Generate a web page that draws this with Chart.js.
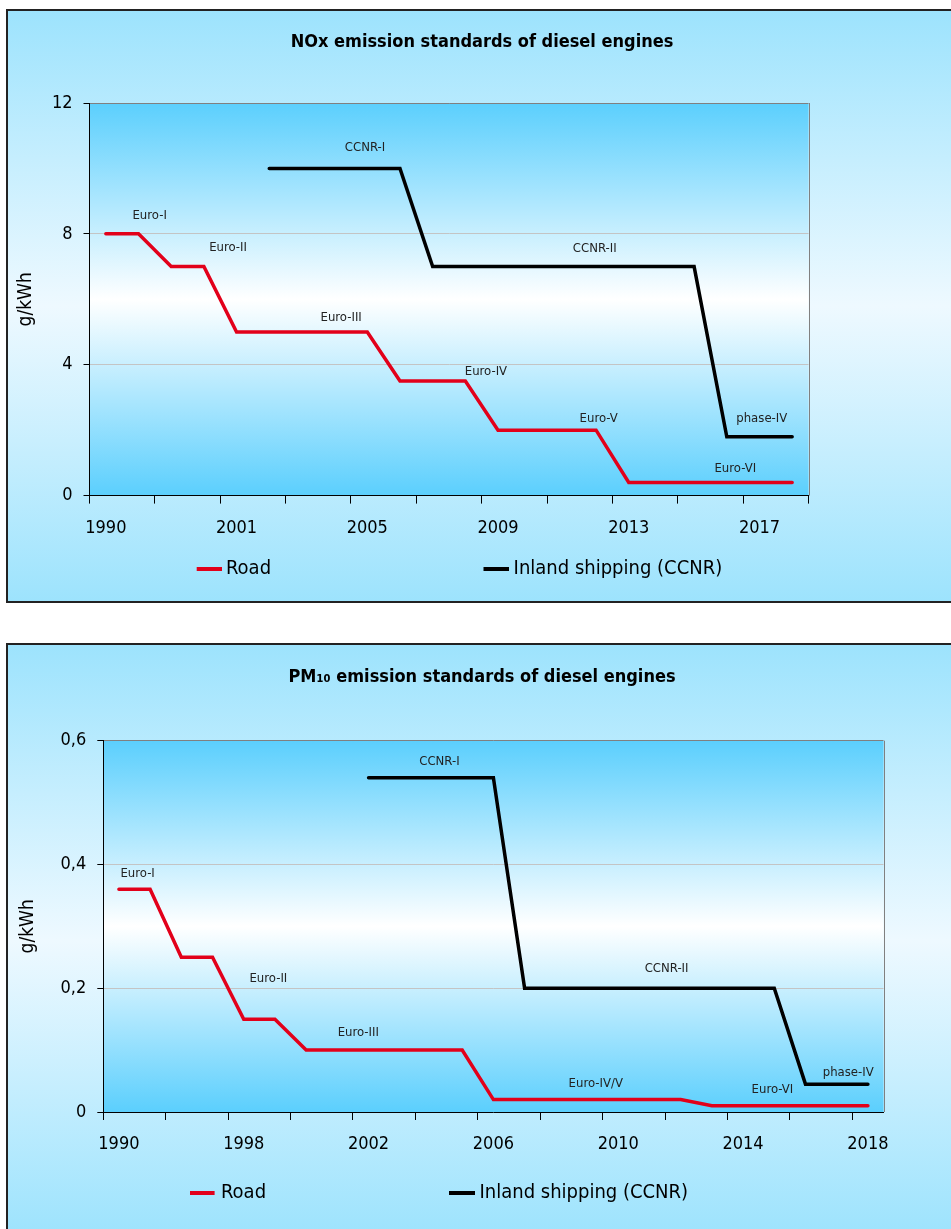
<!DOCTYPE html>
<html>
<head>
<meta charset="utf-8">
<script src="https://cdn.jsdelivr.net/npm/chart.js@4.4.1/dist/chart.umd.min.js"></script>
<style>
  html, body { margin: 0; padding: 0; background: #fff; width: 951px; height: 1229px; overflow: hidden; }
  .panel {
    position: absolute; left: 6px; width: 945px;
    border: 2px solid #222; border-right: none;
    background: linear-gradient(to bottom, #9de3fd 0%, #eef9ff 50%, #9de3fd 100%);
  }
  #p1 { top: 9px; height: 590px; }
  #p2 { top: 643px; height: 590px; }
  canvas { display: block; }
</style>
</head>
<body>
<div class="panel" id="p1"><canvas id="noxChart" width="943" height="590"></canvas></div>
<div class="panel" id="p2"><canvas id="pmChart" width="943" height="590"></canvas></div>
<script>
// ---- data ----
const noxYears = ['1990', '1992', '1994', '1996', '2001', '2002', '2003', '2004', '2005', '2006', '2007',
    '2008', '2009', '2010', '2011', '2012', '2013', '2014', '2015', '2016', '2017', '2018'];
const noxRoad = [8, 8, 7, 7, 5, 5, 5, 5, 5, 3.5, 3.5, 3.5, 2, 2, 2, 2, 0.4, 0.4, 0.4, 0.4, 0.4, 0.4];
const noxShipping = [null, null, null, null, null, 10, 10, 10, 10, 10, 7, 7, 7, 7, 7, 7, 7, 7, 7, 1.8, 1.8, 1.8];
const noxYTicks = ['0', '4', '8', '12'];
const noxNoteText = ['Euro-I', 'Euro-II', 'Euro-III', 'Euro-IV', 'Euro-V', 'Euro-VI', 'CCNR-I', 'CCNR-II', 'phase-IV'];
const noxNoteX = [1.34, 3.74, 7.2, 11.63, 15.08, 19.26, 7.93, 14.96, 20.07];
const noxNoteY = [8.55, 7.59, 5.44, 3.79, 2.35, 0.83, 10.64, 7.56, 2.34];

const pmYears = ['1990', '1992', '1994', '1996', '1998', '1999', '2000', '2001', '2002', '2003', '2004',
    '2005', '2006', '2007', '2008', '2009', '2010', '2011', '2012', '2013', '2014', '2015', '2016', '2017', '2018'];
const pmRoad = [0.36, 0.36, 0.25, 0.25, 0.15, 0.15, 0.1, 0.1, 0.1, 0.1, 0.1, 0.1,
    0.02, 0.02, 0.02, 0.02, 0.02, 0.02, 0.02, 0.01, 0.01, 0.01, 0.01, 0.01, 0.01];
const pmShipping = [null, null, null, null, null, null, null, null, 0.54, 0.54, 0.54, 0.54, 0.54,
    0.2, 0.2, 0.2, 0.2, 0.2, 0.2, 0.2, 0.2, 0.2, 0.045, 0.045, 0.045];
const pmYTicks = ['0', '0,2', '0,4', '0,6'];
const pmNoteText = ['Euro-I', 'Euro-II', 'Euro-III', 'Euro-IV/V', 'Euro-VI', 'CCNR-I', 'CCNR-II', 'phase-IV'];
const pmNoteX = [0.6, 4.79, 7.67, 15.28, 20.94, 10.27, 17.55, 23.37];
const pmNoteY = [0.385, 0.216, 0.129, 0.046, 0.036, 0.566, 0.231, 0.064];

const seriesNames = ['Road', 'Inland shipping (CCNR)'];
const seriesColors = ['#e2001a', '#000000'];

const FONT = '"DejaVu Sans Condensed", "DejaVu Sans", sans-serif';
Chart.defaults.color = '#000';
Chart.defaults.font.family = FONT;

// gradient inside the plot area + grey right edge
const plotBackground = {
    id: 'plotBackground',
    beforeDraw(chart) {
        const { ctx, chartArea: a } = chart;
        const g = ctx.createLinearGradient(0, a.top, 0, a.bottom);
        g.addColorStop(0, '#5bcffd');
        g.addColorStop(0.5, '#ffffff');
        g.addColorStop(1, '#5bcffd');
        ctx.save();
        ctx.fillStyle = g;
        ctx.fillRect(a.left, a.top, a.right - a.left, a.bottom - a.top);
        ctx.strokeStyle = '#808080';
        ctx.lineWidth = 1;
        ctx.beginPath();
        ctx.moveTo(Math.round(a.right) + 0.5, a.top);
        ctx.lineTo(Math.round(a.right) + 0.5, a.bottom);
        ctx.stroke();
        ctx.restore();
    }
};

// text labels (Euro-I etc.) placed in data coordinates
const notes = {
    id: 'notes',
    afterDatasetsDraw(chart, args, opts) {
        const { ctx, scales: { x, y } } = chart;
        ctx.save();
        ctx.font = '13px ' + FONT;
        ctx.fillStyle = '#222';
        ctx.textAlign = 'center';
        ctx.textBaseline = 'middle';
        opts.text.forEach((t, i) => {
            ctx.fillText(t, x.getPixelForValue(opts.xs[i]), y.getPixelForValue(opts.ys[i]));
        });
        ctx.restore();
    }
};

// simple line legend
const lineLegend = {
    id: 'lineLegend',
    afterDraw(chart, args, opts) {
        const { ctx } = chart;
        ctx.save();
        ctx.font = '20px ' + FONT;
        ctx.textBaseline = 'middle';
        ctx.textAlign = 'left';
        chart.data.datasets.forEach((ds, i) => {
            ctx.strokeStyle = ds.borderColor;
            ctx.lineWidth = 4;
            ctx.beginPath();
            ctx.moveTo(opts.lines[i][0], opts.y);
            ctx.lineTo(opts.lines[i][1], opts.y);
            ctx.stroke();
            ctx.fillStyle = '#000';
            ctx.fillText(ds.label, opts.textX[i], opts.y);
        });
        ctx.restore();
    }
};

function makeChart(id, cfg) {
    const nLabels = cfg.labels.length;
    return new Chart(document.getElementById(id), {
        type: 'line',
        data: {
            labels: cfg.labels,
            datasets: [cfg.road, cfg.shipping].map((vals, i) => ({
                label: seriesNames[i],
                data: vals,
                borderColor: seriesColors[i],
                backgroundColor: seriesColors[i],
                borderWidth: 3.5,
                pointRadius: 0,
                tension: 0,
                borderCapStyle: 'round',
                yAxisID: 'y'
            }))
        },
        options: {
            responsive: false,
            animation: false,
            events: [],
            layout: { padding: { left: 5, right: 0, top: 0, bottom: cfg.padBottom } },
            plugins: {
                legend: { display: false },
                tooltip: { enabled: false },
                title: {
                    display: true,
                    text: cfg.title,
                    color: '#000',
                    font: { family: FONT, size: 18, weight: 'bold' },
                    padding: { top: cfg.titleTop, bottom: cfg.titleBottom }
                },
                notes: { text: cfg.noteText, xs: cfg.noteX, ys: cfg.noteY },
                lineLegend: cfg.legend
            },
            scales: {
                x: {
                    type: 'category',
                    offset: true,
                    afterFit: s => { s.height = 60; },
                    grid: {
                        drawOnChartArea: false,
                        offset: true,
                        tickLength: 8,
                        tickColor: c => ((c.index === undefined ? nLabels : c.index) % 2 === 0 ? '#000' : 'rgba(0,0,0,0)')
                    },
                    border: { color: '#000', width: 1 },
                    ticks: {
                        autoSkip: false,
                        maxRotation: 0,
                        padding: 14,
                        font: { family: FONT, size: 18 },
                        callback: (v, i) => (i % 4 === 0 ? cfg.labels[i] : '')
                    }
                },
                y: {
                    min: 0,
                    max: cfg.yMax,
                    afterFit: s => { s.width = cfg.yWidth; },
                    grid: {
                        tickLength: 6,
                        tickColor: '#000',
                        color: c => (c.index === 0 ? 'rgba(0,0,0,0)' : (c.index === cfg.yTicks.length - 1 ? '#808080' : '#c4c4c4'))
                    },
                    border: { color: '#000', width: 1 },
                    ticks: {
                        stepSize: cfg.yStep,
                        padding: 11,
                        font: { family: FONT, size: 18 },
                        callback: (v, i) => cfg.yTicks[i]
                    },
                    title: {
                        display: true,
                        text: 'g/kWh',
                        color: '#000',
                        font: { family: FONT, size: 19 },
                        padding: { top: cfg.yTitlePad, bottom: 0 }
                    }
                },
                yRight: {
                    axis: 'y',
                    position: 'right',
                    min: 0,
                    max: 1,
                    afterFit: s => { s.width = cfg.rightGap; },
                    grid: { display: false },
                    border: { display: false },
                    ticks: { display: false }
                }
            }
        },
        plugins: [plotBackground, notes, lineLegend]
    });
}

makeChart('noxChart', {
    labels: noxYears,
    road: noxRoad,
    shipping: noxShipping,
    title: 'NOx emission standards of diesel engines',
    titleTop: 21,
    titleBottom: 49.4,
    yMax: 12,
    yStep: 4,
    yTicks: noxYTicks,
    yWidth: 76.5,
    yTitlePad: 2,
    rightGap: 142.5,
    padBottom: 45.4,
    noteText: noxNoteText,
    noteX: noxNoteX,
    noteY: noxNoteY,
    legend: { y: 558, lines: [[188.7, 214], [475.5, 501]], textX: [218, 505.6] }
});

makeChart('pmChart', {
    labels: pmYears,
    road: pmRoad,
    shipping: pmShipping,
    title: 'PM\u2081\u2080 emission standards of diesel engines',
    titleTop: 22,
    titleBottom: 52.1,
    yMax: 0.6,
    yStep: 0.2,
    yTicks: pmYTicks,
    yWidth: 90.3,
    yTitlePad: 4,
    rightGap: 67.5,
    padBottom: 63,
    noteText: pmNoteText,
    noteX: pmNoteX,
    noteY: pmNoteY,
    legend: { y: 548, lines: [[182, 206.6], [441, 467]], textX: [213, 471.5] }
});
</script>
</body>
</html>
